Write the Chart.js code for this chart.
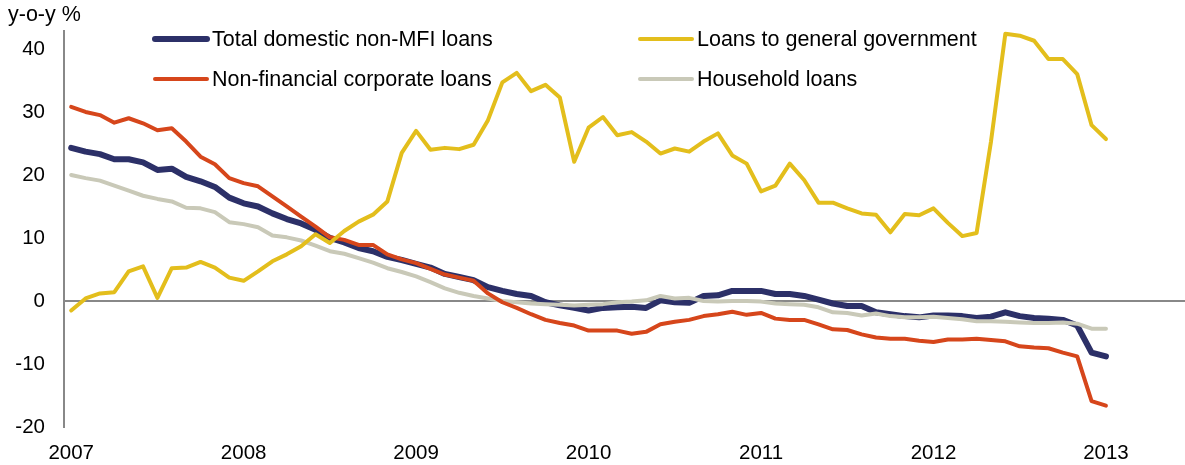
<!DOCTYPE html>
<html>
<head>
<meta charset="utf-8">
<script src="https://cdn.jsdelivr.net/npm/chart.js@4.4.1/dist/chart.umd.min.js"></script>
<style>
  html, body { margin: 0; padding: 0; background: #fff; }
  #wrap { width: 1185px; height: 465px; }
</style>
</head>
<body>
<div id="wrap"><canvas id="loans" width="1185" height="465"></canvas></div>
<script>
// monthly, Jan 2007 .. Jan 2013
const years = ['2007', '2008', '2009', '2010', '2011', '2012', '2013'];
const unitLabel = 'y-o-y %';

const totalLoans = [
  24.3, 23.7, 23.3, 22.5, 22.5, 22.0, 20.8, 21.0, 19.7, 19.0, 18.1, 16.4,
  15.5, 15.0, 13.9, 13.0, 12.3, 11.3, 10.0, 9.3, 8.4, 7.9, 7.0, 6.5,
  5.9, 5.3, 4.3, 3.8, 3.3, 2.2, 1.6, 1.1, 0.8, -0.2, -0.7, -1.1,
  -1.5, -1.1, -1.0, -0.9, -1.1, 0.1, -0.2, -0.3, 0.8, 0.9, 1.6, 1.6,
  1.6, 1.1, 1.1, 0.8, 0.2, -0.4, -0.8, -0.8, -1.8, -2.1, -2.4, -2.6,
  -2.3, -2.3, -2.4, -2.7, -2.5, -1.8, -2.4, -2.7, -2.8, -3.0, -3.9, -8.2,
  -8.8
];
const govLoans = [
  -1.5, 0.4, 1.2, 1.4, 4.7, 5.5, 0.5, 5.2, 5.3, 6.2, 5.3, 3.7,
  3.2, 4.7, 6.3, 7.4, 8.7, 10.6, 9.2, 11.1, 12.6, 13.7, 15.8, 23.5,
  27.0, 24.0, 24.3, 24.1, 24.8, 28.7, 34.7, 36.2, 33.3, 34.3, 32.3, 22.1,
  27.5, 29.2, 26.3, 26.8, 25.3, 23.4, 24.2, 23.7, 25.3, 26.6, 23.1, 21.8,
  17.4, 18.3, 21.8, 19.2, 15.6, 15.6, 14.7, 13.9, 13.7, 10.9, 13.8, 13.6,
  14.7, 12.4, 10.3, 10.8, 25.3, 42.4, 42.1, 41.3, 38.4, 38.4, 36.0, 27.9,
  25.7
];
const corpLoans = [
  30.8, 30.0, 29.5, 28.3, 29.0, 28.2, 27.1, 27.4, 25.3, 22.9, 21.7, 19.5,
  18.7, 18.2, 16.6, 15.0, 13.4, 11.8, 10.1, 9.7, 8.9, 8.9, 7.4, 6.6,
  6.0, 5.1, 4.2, 3.7, 3.2, 1.2, -0.2, -1.1, -2.1, -3.0, -3.5, -3.9,
  -4.7, -4.7, -4.7, -5.2, -4.9, -3.7, -3.3, -3.0, -2.4, -2.1, -1.7, -2.2,
  -1.9, -2.8, -3.0, -3.0, -3.7, -4.5, -4.6, -5.3, -5.8, -6.0, -6.0, -6.3,
  -6.5, -6.1, -6.1, -6.0, -6.2, -6.4, -7.2, -7.4, -7.5, -8.2, -8.8, -15.9,
  -16.6
];
const householdLoans = [
  20.0, 19.5, 19.1, 18.3, 17.5, 16.7, 16.2, 15.8, 14.8, 14.7, 14.1, 12.5,
  12.2, 11.7, 10.4, 10.1, 9.6, 8.8, 7.9, 7.5, 6.8, 6.1, 5.2, 4.6,
  3.9, 3.0, 2.0, 1.3, 0.8, 0.4, 0.0, -0.2, -0.4, -0.5, -0.6, -0.7,
  -0.6, -0.5, -0.2, -0.1, 0.1, 0.8, 0.4, 0.5, 0.0, -0.1, 0.0, 0.0,
  -0.1, -0.4, -0.5, -0.6, -1.0, -1.8, -1.9, -2.3, -2.0, -2.4, -2.6, -2.6,
  -2.5, -2.7, -2.9, -3.2, -3.2, -3.3, -3.4, -3.5, -3.5, -3.4, -3.6, -4.4,
  -4.4
];
const yTicks = [-20, -10, 0, 10, 20, 30, 40];

const toPoints = arr => arr.map((v, i) => ({ x: i, y: v }));
const axisGrey = '#888888';
const txt = '#000000';
const fontFam = 'Arial, "Liberation Sans", sans-serif';

// legend drawn in two rows, like the original
const legendPlugin = {
  id: 'twoRowLegend',
  afterDraw(chart) {
    const ctx = chart.ctx;
    const sets = chart.data.datasets;
    const slots = [
      { x: 155, y: 39 }, { x: 640, y: 39 },
      { x: 155, y: 79 }, { x: 640, y: 79 }
    ];
    ctx.save();
    ctx.font = '21.5px ' + fontFam;
    ctx.textBaseline = 'middle';
    sets.forEach((ds, i) => {
      const s = slots[i];
      ctx.strokeStyle = ds.borderColor;
      ctx.lineWidth = ds.borderWidth;
      ctx.lineCap = 'round';
      ctx.beginPath();
      ctx.moveTo(s.x, s.y);
      ctx.lineTo(s.x + 52, s.y);
      ctx.stroke();
      ctx.fillStyle = txt;
      ctx.fillText(ds.label, s.x + 57, s.y + 1);
    });
    // unit label top-left
    ctx.fillText(unitLabel, 8, 15);
    ctx.restore();
  }
};

new Chart(document.getElementById('loans'), {
  type: 'line',
  data: {
    datasets: [
      { label: 'Total domestic non-MFI loans', data: toPoints(totalLoans),
        borderColor: '#2c3068', borderWidth: 6, order: 4 },
      { label: 'Loans to general government', data: toPoints(govLoans),
        borderColor: '#e3be1c', borderWidth: 4, order: 1 },
      { label: 'Non-financial corporate loans', data: toPoints(corpLoans),
        borderColor: '#d6461b', borderWidth: 4, order: 2 },
      { label: 'Household loans', data: toPoints(householdLoans),
        borderColor: '#c9c9b8', borderWidth: 4, order: 3 }
    ]
  },
  options: {
    responsive: false,
    animation: false,
    layout: { padding: { left: 16, top: 29, right: 0, bottom: 0 } },
    elements: {
      point: { radius: 0 },
      line: { tension: 0, borderJoinStyle: 'round', borderCapStyle: 'round' }
    },
    plugins: {
      legend: { display: false },
      tooltip: { enabled: false }
    },
    scales: {
      x: {
        type: 'linear',
        min: -0.5,
        max: 77.5,
        afterBuildTicks: axis => {
          axis.ticks = years.map((y, i) => ({ value: i * 12 }));
        },
        afterFit: axis => { axis.height = 38; },
        ticks: {
          autoSkip: false,
          maxRotation: 0,
          padding: 14,
          color: txt,
          font: { size: 20.5, family: fontFam },
          callback: v => years[v / 12]
        },
        grid: { display: false, drawTicks: false },
        border: { display: false }
      },
      y: {
        min: -20,
        max: 42.8,
        afterBuildTicks: axis => {
          axis.ticks = yTicks.map(v => ({ value: v }));
        },
        afterFit: axis => { axis.width = 48; },
        ticks: {
          padding: 19,
          color: txt,
          font: { size: 20.5, family: fontFam }
        },
        grid: {
          drawTicks: false,
          lineWidth: 2,
          color: c => (c.tick && c.tick.value === 0) ? axisGrey : 'rgba(0,0,0,0)'
        },
        border: { display: true, color: axisGrey, width: 2 }
      }
    }
  },
  plugins: [legendPlugin]
});
</script>
</body>
</html>
